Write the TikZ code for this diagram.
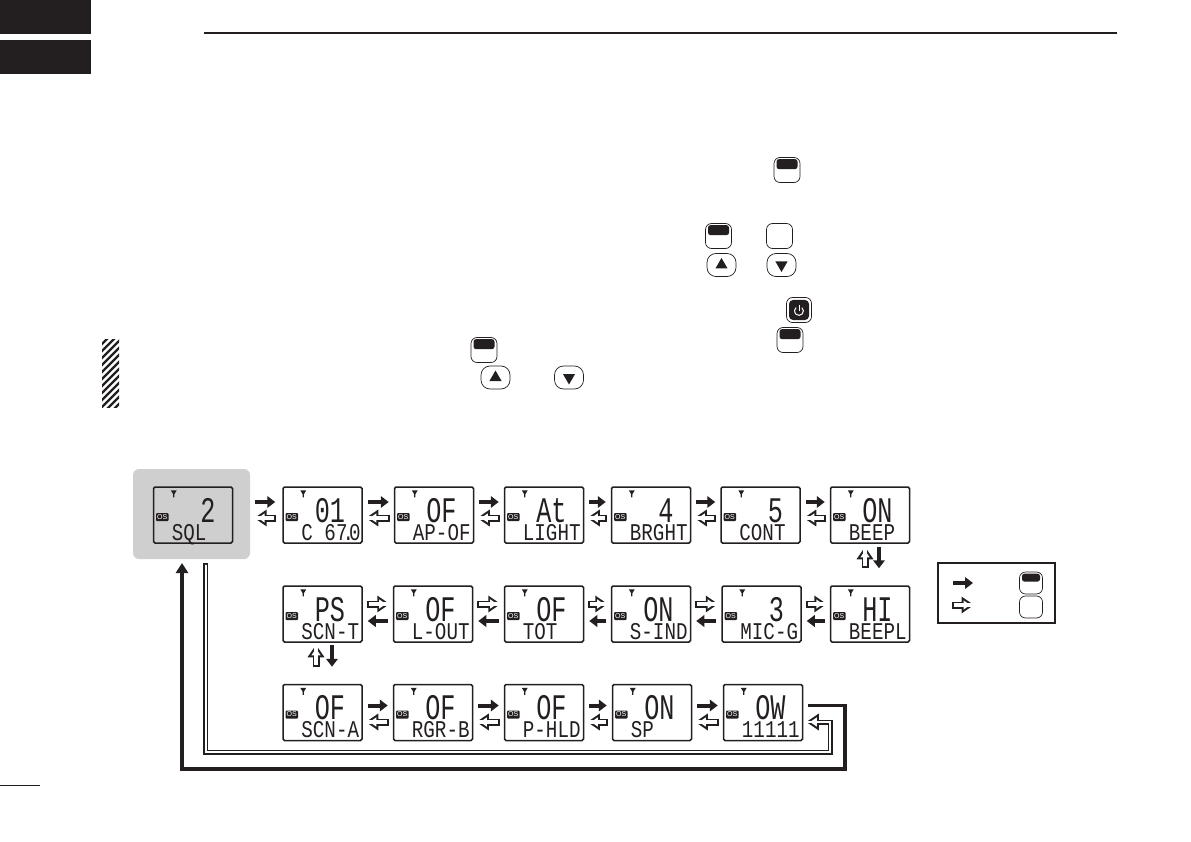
\documentclass[tikz,border=0pt]{standalone}
\usepackage{fontspec}
\usepackage{xcolor}
\usetikzlibrary{positioning, arrows.meta, shapes.geometric}
\setmainfont{Liberation Sans}
\newfontfamily\segbig[FakeStretch=0.7]{Liberation Mono}
\newfontfamily\segsmall[FakeStretch=0.8]{Liberation Mono}
\definecolor{inkblack}{HTML}{231F20}
\definecolor{panelgray}{HTML}{CFCFCF}
\tikzset{
  tinytip/.tip={Triangle[length=.01pt, width=.01pt]},
  lcd/.style={draw=inkblack, line width=1.5pt, rounded corners=1.5pt, minimum width=79pt, minimum height=56pt, inner sep=0pt},
  osbadge/.style={fill=inkblack, rounded corners=1pt, text=white, minimum width=12.5pt, minimum height=8pt, inner sep=0pt, font=\fontsize{7}{7}\selectfont},
  bigseg/.style={inner sep=0pt, anchor=base east, text=inkblack, font=\segbig\fontsize{36}{36}\selectfont},
  smallseg/.style={inner sep=0pt, anchor=base west, text=inkblack, font=\segsmall\fontsize{24}{24}\selectfont},
  solidarrow/.style={draw=inkblack, line width=4pt, -{Triangle[length=8pt, width=11.5pt]}},
  hollowarrow/.style={preaction={draw=inkblack, line width=7pt, -{Triangle[length=12.5pt, width=16pt]}},
    draw=white, line width=3.4pt, {tinytip[sep=1.8pt] tinytip}-{Triangle[length=6.8pt, width=8.7pt, sep=3.7pt] tinytip}},
  thinhollow/.style={preaction={draw=inkblack, line width=5pt, -{Triangle[length=12.5pt, width=16pt]}},
    draw=white, line width=2pt, {tinytip[sep=1.5pt] tinytip}-{Triangle[length=6.8pt, width=8.7pt, sep=3.7pt] tinytip}},
  keybox/.style={draw=inkblack, line width=.7pt, rounded corners=6pt, inner sep=0pt, minimum width=26pt, minimum height=25pt, fill=white},
  keyband/.style={fill=inkblack, rounded corners=2.5pt, inner sep=0pt, minimum width=21pt, minimum height=10pt},
  arrowkey/.style={draw=inkblack, line width=.7pt, rounded corners=9pt, inner sep=0pt, minimum width=29pt, minimum height=23pt},
  keytri/.style={fill=inkblack, regular polygon, regular polygon sides=3, inner sep=0pt, minimum size=14pt}
}
% one display: name, x, y, large text, small text
\newcommand{\lcdunit}[5]{%
  \node[lcd] (#1) at (#2,#3) {};
  \node[osbadge] (#1os) at ([shift={(9.5,2)}]#1.west) {OS};
  \node[bigseg] (#1big) at ([shift={(63,7)}]#1.west) {#4};
  \node[smallseg] (#1small) at ([shift={(19,25)}]#1.west) {#5};
  \fill[inkblack] ([shift={(18,4)}]#1.north west) -- ++(6,0) -- ++(-2.4,4) -- ++(0,3) -- ++(-1.2,0) -- ++(0,-3) -- cycle;
}
% key with the dark band
\newcommand{\bandkey}[3]{%
  \node[keybox] (#1) at (#2,#3) {};
  \node[keyband] (#1band) at ([yshift=-7pt]#1.north) {};
}
\begin{document}
\begin{tikzpicture}[x=1pt, y=-1pt]
  \useasboundingbox (0,0) rectangle (1191,842);
  % page furniture
  \fill[inkblack] (0,0) rectangle (91,34);
  \fill[inkblack] (0,40) rectangle (91,74);
  \draw[inkblack, line width=2pt] (204,33.5) -- (1117,33.5);
  \draw[inkblack, line width=1.2pt] (0,785.5) -- (40,785.5);
  \begin{scope}
    \clip (102,339) rectangle (119,407);
    \foreach \s in {339,346,...,430}
      \draw[inkblack, line width=2.2pt] (100,\s) -- ++(24,-24);
  \end{scope}
  % keys in the text
  \bandkey{keya}{787}{170}
  \bandkey{keyb}{718.5}{236}
  \node[keybox] (keyc) at (779.5,236) {};
  \node[arrowkey] (upa) at (721.5,265) {};
  \node[keytri] at (upa) {};
  \node[arrowkey] (dna) at (781.5,265) {};
  \node[keytri, shape border rotate=180] at (dna) {};
  \node[keybox, minimum width=25pt, minimum height=25pt] (power) at (799,310) {};
  \node[fill=inkblack, rounded corners=4pt, minimum size=20pt, inner sep=0pt] (powerin) at (power) {};
  \draw[white, line width=1pt] ([xshift=2.8pt,yshift=2.4pt]powerin.center) arc[start angle=50, end angle=-230, radius=4.4pt];
  \draw[white, line width=1pt] ([yshift=5.5pt]powerin.center) -- ([yshift=-.5pt]powerin.center);
  \bandkey{keyd}{790}{340}
  \bandkey{keye}{484}{350}
  \node[arrowkey] (upb) at (495.5,377.5) {};
  \node[keytri] at (upb) {};
  \node[arrowkey] (dnb) at (569,377.5) {};
  \node[keytri, shape border rotate=180] at (dnb) {};
  % panel behind the first display
  \node[fill=panelgray, rounded corners=6pt, minimum width=117pt, minimum height=90pt, inner sep=0pt] (panel) at (191.5,514) {};
  % row one
  \lcdunit{sql}{193}{515}{2}{SQL}
  \lcdunit{ctcss}{322.5}{515}{01}{C 67\kern-5pt.\kern-5pt0}
  \lcdunit{apof}{434}{515}{OF}{AP-OF}
  \lcdunit{light}{544}{515}{At}{LIGHT}
  \lcdunit{brght}{651}{515}{4}{BRGHT}
  \lcdunit{cont}{760.5}{515}{5}{CONT}
  \lcdunit{beep}{870}{515}{ON}{BEEP}
  % row two
  \lcdunit{scnt}{322.5}{614}{PS}{SCN-T}
  \lcdunit{lout}{433}{614}{OF}{L-OUT}
  \lcdunit{tot}{544}{614}{OF}{TOT}
  \lcdunit{sind}{651}{614}{ON}{S-IND}
  \lcdunit{micg}{761.5}{614}{3}{MIC-G}
  \lcdunit{beepl}{870}{614}{HI}{BEEPL}
  % row three
  \lcdunit{scna}{322.5}{712.5}{OF}{SCN-A}
  \lcdunit{rgrb}{433}{712.5}{OF}{RGR-B}
  \lcdunit{phld}{544}{712.5}{OF}{P-HLD}
  \lcdunit{sp}{652}{712.5}{ON}{SP}
  \lcdunit{ow}{763}{712.5}{OW}{11111}
  % arrows between the displays
  \draw[solidarrow, shorten <=5pt, shorten >=7pt] ([yshift=13pt]panel.east |- sql.east) -- ([yshift=13pt]ctcss.west);
  \draw[hollowarrow, shorten <=6pt, shorten >=4pt] ([yshift=-3pt]ctcss.west) -- ([yshift=-3pt]panel.east |- sql.east);
  \foreach \a/\b in {ctcss/apof, apof/light, light/brght, brght/cont, cont/beep} {
    \draw[solidarrow, shorten <=5pt, shorten >=5pt] ([yshift=13pt]\a.east) -- ([yshift=13pt]\b.west);
    \draw[hollowarrow, shorten <=4pt, shorten >=3pt] ([yshift=-3pt]\b.west) -- ([yshift=-3pt]\a.east);
  }
  \foreach \a/\b in {scnt/lout, lout/tot, tot/sind, sind/micg, micg/beepl} {
    \draw[hollowarrow, shorten <=4pt, shorten >=3pt] ([yshift=10pt]\a.east) -- ([yshift=10pt]\b.west);
    \draw[solidarrow, shorten <=5pt, shorten >=5pt] ([yshift=-7pt]\b.west) -- ([yshift=-7pt]\a.east);
  }
  \foreach \a/\b in {scna/rgrb, rgrb/phld, phld/sp, sp/ow} {
    \draw[solidarrow, shorten <=5pt, shorten >=5pt] ([yshift=7pt]\a.east) -- ([yshift=7pt]\b.west);
    \draw[hollowarrow, shorten <=4pt, shorten >=3pt] ([yshift=-9.5pt]\b.west) -- ([yshift=-9.5pt]\a.east);
  }
  % between the rows
  \draw[hollowarrow, shorten <=17pt, shorten >=3pt] ([xshift=-5pt]beepl.north) -- ([xshift=-5pt]beep.south);
  \draw[solidarrow, shorten <=3pt, shorten >=17pt] ([xshift=9pt]beep.south) -- ([xshift=9pt]beepl.north);
  \draw[hollowarrow, shorten <=17pt, shorten >=2pt] ([xshift=-6.5pt]scna.north) -- ([xshift=-6.5pt]scnt.south);
  \draw[solidarrow, shorten <=2pt, shorten >=17pt] ([xshift=9.5pt]scnt.south) -- ([xshift=9.5pt]scna.north);
  % long return lines
  \coordinate (thickcorner) at (845,769);
  \coordinate (thinbottom) at (205.5,752);
  \coordinate (thinright) at (830,752);
  \coordinate (panelentry) at (182,559);
  \draw[solidarrow, line width=3.8pt, -{Triangle[length=10pt, width=12pt]}, shorten <=5pt, shorten >=4pt] ([yshift=7pt]ow.east) -| (thickcorner) -| (panelentry);
  \draw[thinhollow, shorten <=4pt, shorten >=3pt] (thinbottom |- panel.south) -- (thinbottom) -- (thinright) |- ([yshift=-9.5pt]ow.east);
  % legend
  \node[draw=inkblack, line width=1.5pt, minimum width=117pt, minimum height=60pt, inner sep=0pt] (legend) at (996.5,593) {};
  \coordinate (solidfrom) at (953,583);
  \coordinate (solidto) at (973,583);
  \coordinate (hollowfrom) at (952,605);
  \coordinate (hollowto) at (974,605);
  \draw[solidarrow] (solidfrom) -- (solidto);
  \draw[hollowarrow] (hollowfrom) -- (hollowto);
  \node[keybox, minimum width=23pt, minimum height=22pt] (legendb) at (1031,607) {};
  \node[keybox, minimum width=23pt, minimum height=22pt] (legenda) at (1031,583) {};
  \node[keyband, minimum width=18pt, minimum height=8pt] (legendaband) at ([yshift=-6pt]legenda.north) {};
\end{tikzpicture}
\end{document}
